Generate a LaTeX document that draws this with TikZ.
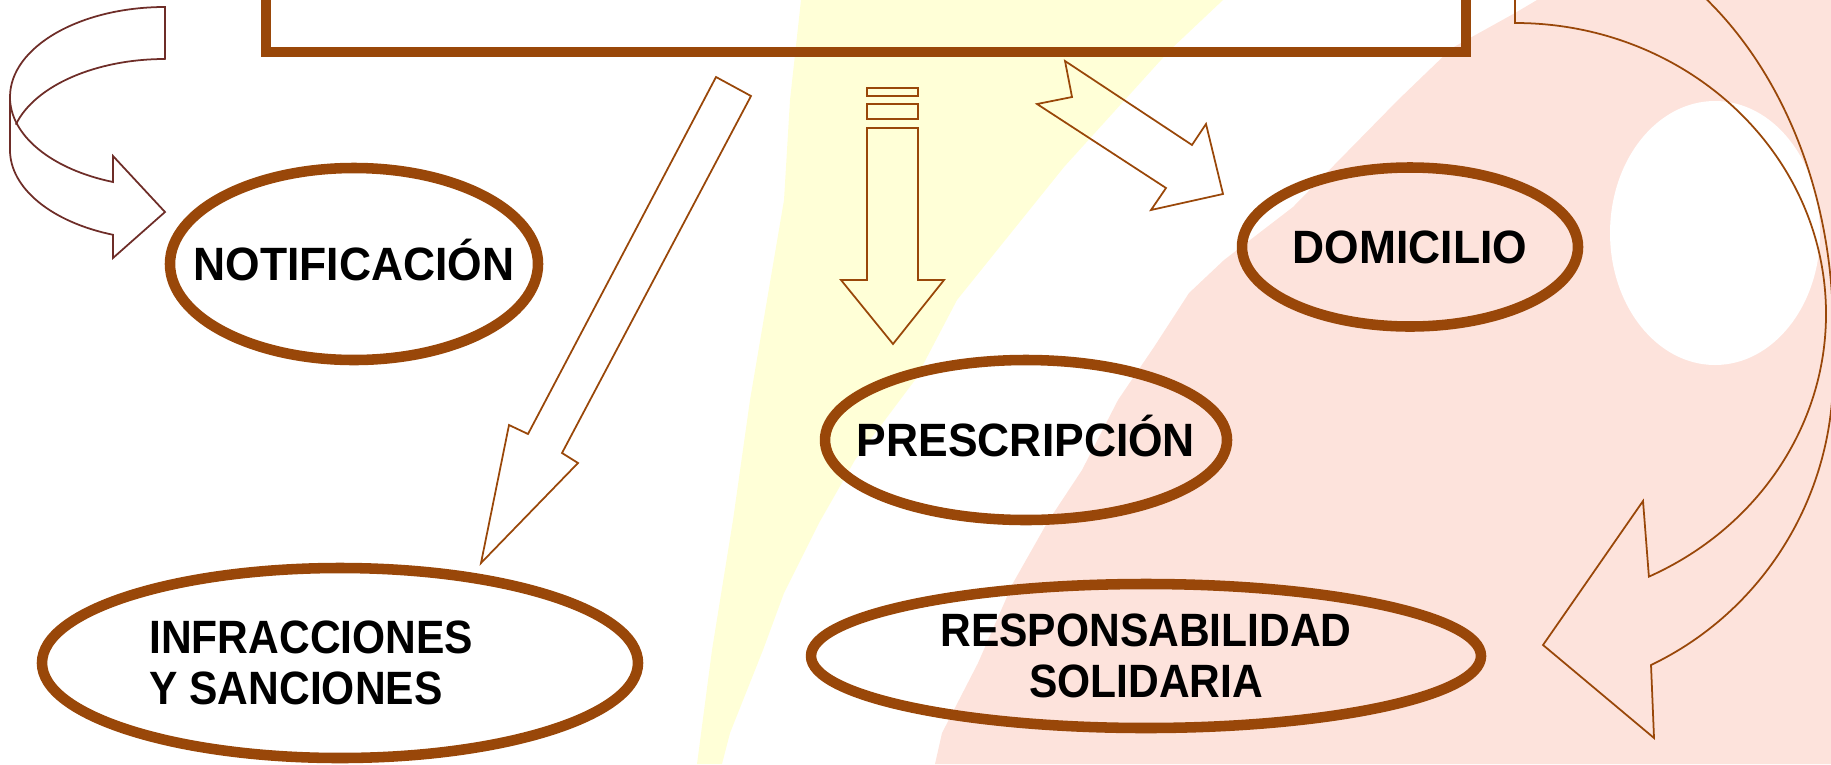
\documentclass[tikz,border=0pt]{standalone}
\usepackage{fontspec}
\usepackage{tikz}
\usetikzlibrary{shapes.geometric}
\usetikzlibrary{positioning}
\newfontfamily\ovalfont{Liberation Sans}[FakeStretch=0.95]
\newfontfamily\ovalfontn{Liberation Sans}[FakeStretch=0.91]
\definecolor{marron}{RGB}{153,71,9}
\definecolor{granate}{RGB}{110,45,40}
\definecolor{fondoamarillo}{RGB}{255,255,215}
\definecolor{fondorosa}{RGB}{253,227,220}

\begin{document}
\begin{tikzpicture}[line cap=round,line join=round,x=1cm,y=1cm]
\useasboundingbox (0,0) rectangle (18.31,7.64);
\clip (0,0) rectangle (18.31,7.64);
%fondo
\fill [color=fondoamarillo] (8.01,7.64)-- (12.23,7.64)-- (11.70,7.14)-- (10.64,5.97)-- (9.57,4.64)-- (9.15,3.84)-- (8.55,3.04)-- (8.19,2.41)-- (7.84,1.71)-- (7.63,1.14)-- (7.30,0.31)-- (7.22,0)-- (6.97,0)-- (7.12,1.14)-- (7.33,2.44)-- (7.50,3.64)-- (7.67,4.64)-- (7.84,5.64)-- (7.90,6.64)-- cycle;
\fill [color=fondorosa] (15.37,7.64)-- (15.15,7.51)-- (14.52,7.16)-- (13.98,6.64)-- (13.46,6.11)-- (12.93,5.57)-- (12.24,5.04)-- (11.89,4.71)-- (11.54,4.17)-- (11.18,3.64)-- (10.82,2.94)-- (10.47,2.41)-- (10.13,1.81)-- (9.78,1.01)-- (9.42,0.31)-- (9.35,0)-- (18.31,0)-- (18.31,7.64)-- cycle;
\fill [color=white] (17.15,5.31) ellipse (1.05 and 1.32);

\tikzstyle{mybox}= [draw=marron, line width=2.9pt, line join=miter, inner sep=0pt, outer sep=0pt];
\tikzstyle{myoval}= [ellipse, draw=marron, line width=3pt, inner sep=0pt];
\tikzstyle{mytext}= [inner sep=0pt, text=black, font=\ovalfont\bfseries\fontsize{13.3}{14.4}\selectfont];
\tikzstyle{mytextn}= [inner sep=0pt, text=black, font=\ovalfontn\bfseries\fontsize{13.3}{14.4}\selectfont];
\tikzstyle{myarrow}= [draw=marron, line width=0.5pt, line join=miter];

%caja de arriba
\node [mybox, anchor=south west, minimum width=12cm, minimum height=1cm] (tema) at (2.66,7.12) {};

%elipses
\node [myoval, minimum width=3.68cm, minimum height=1.92cm] (notif) at (3.54,5.00) {};
\node [mytext, text height=9.5pt, text depth=0pt] (notiftxt) at (notif) {NOTIFICACIÓN};
\node [myoval, minimum width=3.36cm, minimum height=1.59cm] (domic) at (14.10,5.17) {};
\node [mytext, text height=9.5pt, text depth=0pt] (domictxt) at (domic) {DOMICILIO};
\node [myoval, minimum width=4.02cm, minimum height=1.60cm] (presc) at (10.26,3.24) {};
\node [mytext, text height=9.5pt, text depth=0pt] (presctxt) at (presc) {PRESCRIPCIÓN};
\node [myoval, minimum width=6.70cm, minimum height=1.44cm] (resp) at (11.46,1.08) {};
\node [mytextn, align=center] (resptxt) at (resp) {RESPONSABILIDAD\\SOLIDARIA};
\node [myoval, minimum width=5.96cm, minimum height=1.90cm] (infr) at (3.40,1.01) {};
\node [mytextn, align=left, right=1.12cm of infr.west] (infrtxt) {INFRACCIONES\\Y SANCIONES};

%flecha curva izquierda
\draw [myarrow, draw=granate] (1.65,7.05)-- (1.65,7.57) arc (90:180:1.55 and 0.90)-- (0.10,6.14) arc (180:250.4:1.55 and 0.90)-- (1.13,5.06)-- (1.65,5.52)-- (1.13,6.08)-- (1.13,5.82) arc (250.4:180:1.55 and 0.90);
\draw [myarrow, draw=granate] (1.65,7.05) arc (90:164:1.55 and 0.90);

%flecha larga
\draw [myarrow] (7.16,6.87)-- (5.28,3.30)-- (5.09,3.39)-- (4.81,2.01)-- (5.78,3.01)-- (5.62,3.11)-- (7.51,6.68)-- cycle;

%flecha rayada
\draw [myarrow] (8.67,6.76) rectangle (9.18,6.68);
\draw [myarrow] (8.67,6.60) rectangle (9.18,6.45);
\draw [myarrow] (8.67,6.36)-- (8.67,4.84)-- (8.41,4.84)-- (8.93,4.20)-- (9.44,4.84)-- (9.18,4.84)-- (9.18,6.36)-- cycle;

%flecha con muesca
\draw [myarrow] (10.65,7.03)-- (11.92,6.19)-- (12.06,6.40)-- (12.23,5.70)-- (11.51,5.54)-- (11.66,5.76)-- (10.37,6.60)-- (10.72,6.67)-- cycle;

%flecha curva derecha
\draw [myarrow] (15.15,7.90)-- (15.15,7.41) arc (90:-64.5:3.11 and 2.91)-- (16.43,2.63)-- (15.43,1.19)-- (16.54,0.26)-- (16.51,0.99);
\draw [myarrow] (16.51,0.99) arc (-64.7:0:3.18 and 3.22)-- (18.33,4.35) arc (0:60:3.18 and 4.13);
\end{tikzpicture}
\end{document}
